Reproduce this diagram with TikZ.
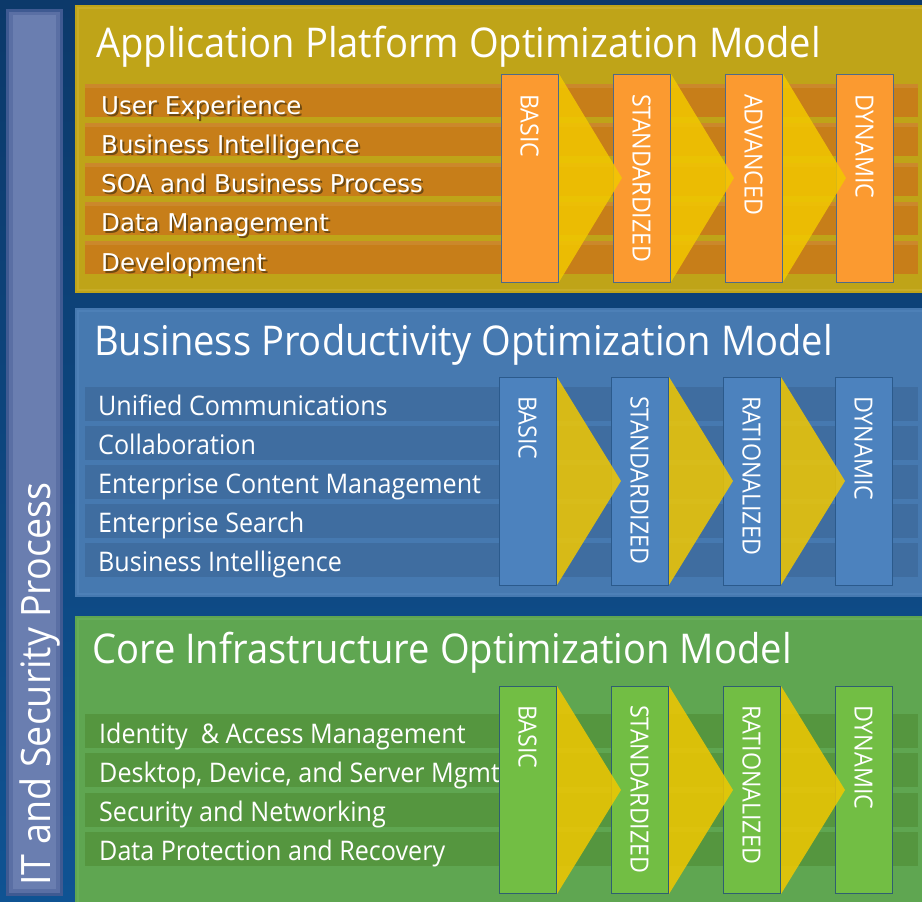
\documentclass[tikz,border=0pt]{standalone}
\usepackage{fontspec}
\setmainfont{Open Sans}[FakeStretch=0.93]
\newfontfamily\itemfont{DejaVu Sans}
\definecolor{cbgtop}{HTML}{0C396A}
\definecolor{cbgbot}{HTML}{0F5393}
\definecolor{cbarc}{HTML}{6A7EB0}
\definecolor{cbarm}{HTML}{5A6FA4}
\definecolor{cbare}{HTML}{3F5A92}
\definecolor{cypanel}{HTML}{BFA418}
\definecolor{cyedge}{HTML}{CDB232}
\definecolor{cyrow}{HTML}{C77E19}
\definecolor{cyshadow}{HTML}{6E4A12}
\definecolor{cybox}{HTML}{FB9A30}
\definecolor{cyboxline}{HTML}{4F6A88}
\definecolor{cbpanel}{HTML}{4679B0}
\definecolor{cbedge}{HTML}{5286BC}
\definecolor{cbrow}{HTML}{3F6DA0}
\definecolor{cbbox}{HTML}{4C82BE}
\definecolor{cbboxline}{HTML}{2B5A8C}
\definecolor{cgpanel}{HTML}{5FA651}
\definecolor{cgedge}{HTML}{6BB25C}
\definecolor{cgrow}{HTML}{55963F}
\definecolor{cgbox}{HTML}{72BE44}
\definecolor{cgboxline}{HTML}{2F5F70}
\definecolor{cchev}{HTML}{F2C800}
\newcommand\shadowtext[1]{\makebox[0pt][l]{\hspace{2pt}\raisebox{-2pt}{\textcolor{cyshadow}{#1}}}#1}
\begin{document}
\begin{tikzpicture}[x=1pt,y=-1pt,
  titletext/.style={text=white,inner sep=0pt,anchor=base west,font=\fontsize{41}{44}\selectfont},
  itemA/.style={text=white,inner sep=0pt,anchor=base west,font=\itemfont\fontsize{24.5}{27}\selectfont},
  itemB/.style={text=white,inner sep=0pt,anchor=base west,font=\fontsize{27}{30}\selectfont},
  stagetext/.style={text=white,inner sep=0pt,anchor=west,rotate=-90,font=\fontsize{25}{28}\selectfont},
  chevshape/.style={fill=cchev,fill opacity=0.85,draw=none},
  sidetext/.style={text=white,inner sep=0pt,anchor=base west,rotate=90,font=\fontsize{40.5}{44}\selectfont}]
\useasboundingbox (0,0) rectangle (922,902);
% background
\shade[top color=cbgtop,bottom color=cbgbot] (0,0) rectangle (922,902);
% left bar
\fill[cbare] (6,9) rectangle (63,896);
\fill[cbarm] (9,12) rectangle (60,893);
\fill[cbarc] (13,15) rectangle (56,889);
\node[sidetext] (side) at (50,886) {IT and Security Process};

% ===== top panel =====
\fill[cypanel] (75,5) rectangle (922,293);
\draw[cyedge,line width=2pt,opacity=0.6] (78,8) rectangle (925,290);
\node[titletext] (t1) at (96,57) {Application Platform Optimization Model};
\foreach \i in {0,...,4}{
  \fill[cyrow] (85,{84+39.25*\i}) rectangle (918,{117+39.25*\i});
  \fill[white,opacity=0.08] (85,{84+39.25*\i}) rectangle (918,{88+39.25*\i});
}
\node[itemA] (a1) at (101,114) {\shadowtext{User Experience}};
\node[itemA] (a2) at (101,153.25) {\shadowtext{Business Intelligence}};
\node[itemA] (a3) at (101,192.5) {\shadowtext{SOA and Business Process}};
\node[itemA] (a4) at (101,231.75) {\shadowtext{Data Management}};
\node[itemA] (a5) at (101,271) {\shadowtext{Development}};
\foreach \x in {501,613,725,836}{
  \draw[fill=cybox,draw=cyboxline,line width=0.8pt] (\x,74) rectangle ({\x+57},282);
}
\foreach \x in {559,671,783}{
  \fill[chevshape] (\x,74) -- ({\x+63},178) -- (\x,282) -- cycle;
}
\node[stagetext] (s11) at (529.5,94) {BASIC};
\node[stagetext] (s12) at (641.5,94) {STANDARDIZED};
\node[stagetext] (s13) at (753.5,94) {ADVANCED};
\node[stagetext] (s14) at (864.5,94) {DYNAMIC};

% ===== middle panel =====
\fill[cbpanel] (75,308) rectangle (922,597);
\draw[cbedge,line width=2pt,opacity=0.6] (78,311) rectangle (925,594);
\node[titletext] (t2) at (94,355) {Business Productivity Optimization Model};
\foreach \i in {0,...,4}{
  \fill[cbrow] (85,{387+39*\i}) rectangle (918,{421+39*\i});
}
\node[itemB] (b1) at (98,415) {Unified Communications};
\node[itemB] (b2) at (98,454) {Collaboration};
\node[itemB] (b3) at (98,493) {Enterprise Content Management};
\node[itemB] (b4) at (98,532) {Enterprise Search};
\node[itemB] (b5) at (98,571) {Business Intelligence};
\foreach \x in {499,611,723,835}{
  \draw[fill=cbbox,draw=cbboxline,line width=0.8pt] (\x,377) rectangle ({\x+57},585);
}
\foreach \x in {557,669,781}{
  \fill[chevshape] (\x,377) -- ({\x+64},481) -- (\x,585) -- cycle;
}
\node[stagetext] (s21) at (527.5,396) {BASIC};
\node[stagetext] (s22) at (639.5,396) {STANDARDIZED};
\node[stagetext] (s23) at (751.5,396) {RATIONALIZED};
\node[stagetext] (s24) at (863.5,396) {DYNAMIC};

% ===== bottom panel =====
\fill[cgpanel] (75,616) rectangle (922,905);
\draw[cgedge,line width=2pt,opacity=0.6] (78,619) rectangle (925,908);
\node[titletext] (t3) at (92,663) {Core Infrastructure Optimization Model};
\foreach \i in {0,...,3}{
  \fill[cgrow] (85,{714+39.3*\i}) rectangle (918,{748+39.3*\i});
}
\node[itemB] (c1) at (99,743) {Identity \ \& Access Management};
\node[itemB] (c2) at (99,782.3) {Desktop, Device, and Server Mgmt};
\node[itemB] (c3) at (99,821.6) {Security and Networking};
\node[itemB] (c4) at (99,860.9) {Data Protection and Recovery};
\foreach \x in {499,611,723,835}{
  \draw[fill=cgbox,draw=cgboxline,line width=0.8pt] (\x,686) rectangle ({\x+57},893);
}
\foreach \x in {557,669,781}{
  \fill[chevshape] (\x,686) -- ({\x+64},790) -- (\x,894) -- cycle;
}
\node[stagetext] (s31) at (527.5,705) {BASIC};
\node[stagetext] (s32) at (639.5,705) {STANDARDIZED};
\node[stagetext] (s33) at (751.5,705) {RATIONALIZED};
\node[stagetext] (s34) at (863.5,705) {DYNAMIC};
\end{tikzpicture}
\end{document}
